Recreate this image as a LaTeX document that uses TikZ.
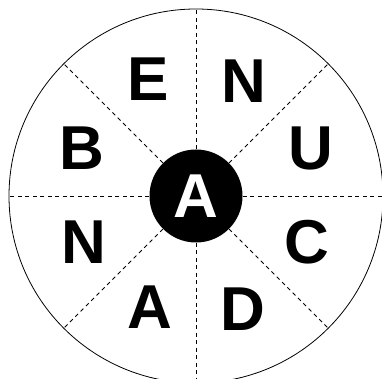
\documentclass[tikz,border=0pt]{standalone}
\usepackage{fontspec}
\setmainfont{Liberation Sans}
\begin{document}
\begin{tikzpicture}[x=1pt, y=1pt,
    letter/.style={font=\fontsize{62}{62}\selectfont\bfseries, inner sep=0pt},
    spoke/.style={dash pattern=on 4pt off 3.5pt, line width=0.8pt}]
    \useasboundingbox (-196,-183) rectangle (186,196);
    % rim and hub
    \node[circle,draw,line width=0.8pt,minimum size=374pt,inner sep=0pt] (rim) at (0,0) {};
    \node[circle,fill=black,minimum size=93pt,inner sep=0pt] (hub) at (0,0) {};
    \foreach \a in {0,45,...,315}
        \draw[spoke] (hub.\a) -- (rim.\a);
    \node[letter,text=white] (a0) at (0,0) {A};

    % letters round the wheel
    \node[letter] (n1) at (67.5:124) {N};
    \node[letter] (u) at (22.5:124) {U};
    \node[letter] (c) at (-22.5:120) {C};
    \node[letter] (d) at (-67.5:122) {D};
    \node[letter] (a1) at (-112.5:120) {A};
    \node[letter] (n2) at (-157.5:121) {N};
    \node[letter] (b) at (157.5:124) {B};
    \node[letter] (e) at (112.5:126) {E};
\end{tikzpicture}
\end{document}
